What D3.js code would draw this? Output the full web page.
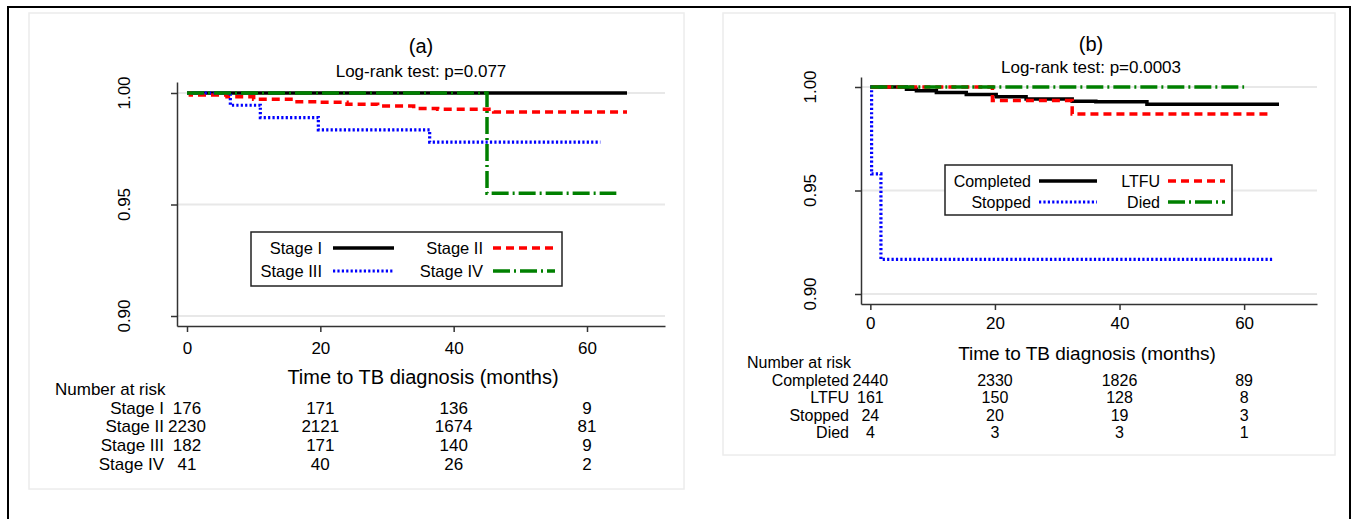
<!DOCTYPE html>
<html><head><meta charset="utf-8">
<script src="https://cdn.jsdelivr.net/npm/d3@7"></script>
<style>
html,body{margin:0;padding:0;background:#fff;}
svg{display:block;font-family:"Liberation Sans",Arial,Helvetica,sans-serif;}
</style></head>
<body>
<svg id="chart" width="1356" height="519"></svg>
<script>
// ---------------- DATA ----------------
const xTicks = [0, 20, 40, 60];
const xTickLabels = ["0", "20", "40", "60"];
const yTicks = [0.90, 0.95, 1.00];
const yTickLabels = ["0.90", "0.95", "1.00"];

// Panel (a): survival by stage
const stageNames = ["Stage I", "Stage II", "Stage III", "Stage IV"];
const stageI_t   = [0, 66];
const stageI_s   = [1, 1];
const stageII_t  = [0, 0.5, 6, 10, 16, 20, 24, 28.6, 34, 37.6, 46, 66];
const stageII_s  = [1, 0.9991, 0.9983, 0.9972, 0.9961, 0.9958, 0.9949, 0.9942, 0.9931, 0.9927, 0.9915, 0.9915];
const stageIII_t = [0, 6.5, 11, 19.7, 36.4, 62];
const stageIII_s = [1, 0.9945, 0.989, 0.9835, 0.978, 0.978];
const stageIV_t  = [0, 45, 64.4];
const stageIV_s  = [1, 0.955, 0.955];
const riskA = [
  [176, 171, 136, 9],
  [2230, 2121, 1674, 81],
  [182, 171, 140, 9],
  [41, 40, 26, 2]
];

// Panel (b): survival by treatment outcome
const outcomeNames = ["Completed", "LTFU", "Stopped", "Died"];
const completed_t = [0, 5.8, 7.4, 10.6, 15.4, 20.2, 25, 32.4, 36.2, 44.4, 65.6];
const completed_s = [1, 0.9989, 0.9982, 0.9974, 0.9964, 0.9953, 0.9942, 0.9931, 0.9929, 0.9917, 0.9917];
const ltfu_t      = [0, 19.6, 32.4, 64.5];
const ltfu_s      = [1, 0.9935, 0.987, 0.987];
const stopped_t   = [0, 0.2, 1.7, 64.8];
const stopped_s   = [1, 0.958, 0.9167, 0.9167];
const died_t      = [0, 60];
const died_s      = [1, 1];
const riskB = [
  [2440, 2330, 1826, 89],
  [161, 150, 128, 8],
  [24, 20, 19, 3],
  [4, 3, 3, 1]
];

// ---------------- STYLES ----------------
const styles = {
  solid:   {color: "#000000", dash: null,        width: 3.5},
  dash:    {color: "#ff0000", dash: "8,5",       width: 3.5},
  dot:     {color: "#0000ff", dash: "2.2,2.2",   width: 3.2},
  dashdot: {color: "#008000", dash: "17,4,2,4",  width: 3.5}
};

const svg = d3.select("#chart");

// outer frame
svg.append("rect").attr("x", 8).attr("y", 7).attr("width", 1342).attr("height", 600)
  .attr("fill", "none").attr("stroke", "#000").attr("stroke-width", 2);

function zip(t, s) { return t.map((d, i) => ({t: d, s: s[i]})); }

function drawPanel(cfg) {
  const g = svg.append("g");
  // light panel frame
  g.append("rect").attr("x", cfg.box[0]).attr("y", cfg.box[1])
    .attr("width", cfg.box[2] - cfg.box[0]).attr("height", cfg.box[3] - cfg.box[1])
    .attr("fill", "#fff").attr("stroke", "#ececec").attr("stroke-width", 1.5);

  const x = d3.scaleLinear().domain([-1.5, 71.7]).range(cfg.xRange);
  const y = d3.scaleLinear().domain(cfg.yDomain).range(cfg.yRange);

  // titles
  g.append("text").attr("x", cfg.titleX).attr("y", cfg.titleY).attr("text-anchor", "middle")
    .attr("dominant-baseline", "central").attr("font-size", 20).text(cfg.title);
  g.append("text").attr("x", cfg.titleX).attr("y", cfg.subY).attr("text-anchor", "middle")
    .attr("dominant-baseline", "central").attr("font-size", 17).text(cfg.subtitle);

  // gridlines
  g.selectAll(".grid").data(yTicks).join("line")
    .attr("x1", cfg.xRange[0]).attr("x2", cfg.xRange[1])
    .attr("y1", d => y(d)).attr("y2", d => y(d))
    .attr("stroke", "#e8e8e8").attr("stroke-width", 2);

  // y axis
  const yAxis = d3.axisLeft(y).tickValues(yTicks).tickSize(6).tickSizeOuter(0).tickFormat("");
  const ya = g.append("g").attr("transform", `translate(${cfg.xRange[0]},0)`).call(yAxis);
  ya.select(".domain").attr("stroke", "#333").attr("stroke-width", 1.5);
  ya.selectAll(".tick line").attr("stroke", "#333").attr("stroke-width", 1.5);
  g.selectAll(".ylab").data(yTicks).join("text")
    .attr("transform", (d) => `translate(${cfg.yLabX},${y(d)}) rotate(-90)`)
    .attr("text-anchor", "middle").attr("dominant-baseline", "central")
    .attr("font-size", 17).text((d, i) => yTickLabels[i]);

  // x axis
  const xAxis = d3.axisBottom(x).tickValues(xTicks).tickSize(6).tickSizeOuter(0)
    .tickFormat((d, i) => xTickLabels[i]);
  const xa = g.append("g").attr("transform", `translate(0,${cfg.yRange[0]})`).call(xAxis);
  xa.select(".domain").attr("stroke", "#333").attr("stroke-width", 1.5);
  xa.selectAll(".tick line").attr("stroke", "#333").attr("stroke-width", 1.5);
  xa.selectAll(".tick text").attr("font-size", 17).attr("fill", "#000")
    .attr("font-family", "Liberation Sans, Arial, sans-serif").attr("dy", cfg.xLabDy);

  g.append("text").attr("x", cfg.xTitleX).attr("y", cfg.xTitleY).attr("text-anchor", "middle")
    .attr("dominant-baseline", "central").attr("font-size", cfg.xTitleSize).text("Time to TB diagnosis (months)");

  // curves
  const line = d3.line().x(d => x(d.t)).y(d => y(d.s)).curve(d3.curveStepAfter);
  cfg.series.forEach(s => {
    const st = styles[s.style];
    g.append("path").datum(zip(s.t, s.s)).attr("d", line)
      .attr("fill", "none").attr("stroke", st.color).attr("stroke-width", st.width)
      .attr("stroke-dasharray", st.dash);
  });

  // legend
  const L = cfg.legend;
  g.append("rect").attr("x", L.box[0]).attr("y", L.box[1])
    .attr("width", L.box[2] - L.box[0]).attr("height", L.box[3] - L.box[1])
    .attr("fill", "#fff").attr("stroke", "#222").attr("stroke-width", 1.5);
  L.order.forEach((idx, k) => {
    const col = k % 2, row = Math.floor(k / 2);
    const s = cfg.series[idx];
    const st = styles[s.style];
    const ly = L.rows[row];
    g.append("text").attr("x", L.textRight[col]).attr("y", ly).attr("text-anchor", "end")
      .attr("dominant-baseline", "central").attr("font-size", L.fontSize).text(s.name);
    g.append("line").attr("x1", L.lineX[col][0]).attr("x2", L.lineX[col][1])
      .attr("y1", ly).attr("y2", ly)
      .attr("stroke", st.color).attr("stroke-width", st.width).attr("stroke-dasharray", st.dash);
  });

  // number at risk table
  const R = cfg.risk;
  g.append("text").attr("x", R.headX).attr("y", R.headY).attr("dominant-baseline", "central")
    .attr("font-size", R.fontSize).text("Number at risk");
  R.names.forEach((nm, i) => {
    const ry = R.rows[i];
    g.append("text").attr("x", R.labelRight).attr("y", ry).attr("text-anchor", "end")
      .attr("dominant-baseline", "central").attr("font-size", R.fontSize).text(nm);
    g.selectAll(null).data(R.values[i]).join("text")
      .attr("x", (d, j) => x(xTicks[j])).attr("y", ry).attr("text-anchor", "middle")
      .attr("dominant-baseline", "central").attr("font-size", R.fontSize).text(d => d);
  });
}

drawPanel({
  box: [29, 13, 684, 489],
  xRange: [177, 665],
  yDomain: [0.89552, 1.00493], yRange: [326, 82],
  title: "(a)", subtitle: "Log-rank test: p=0.077",
  titleX: 421, titleY: 46, subY: 71,
  yLabX: 124, xLabDy: "1.1em",
  xTitleX: 423, xTitleY: 377, xTitleSize: 20,
  series: [
    {name: stageNames[0], t: stageI_t, s: stageI_s, style: "solid"},
    {name: stageNames[1], t: stageII_t, s: stageII_s, style: "dash"},
    {name: stageNames[2], t: stageIII_t, s: stageIII_s, style: "dot"},
    {name: stageNames[3], t: stageIV_t, s: stageIV_s, style: "dashdot"}
  ],
  legend: {box: [251, 232, 562, 286], rows: [248, 271], order: [0, 1, 2, 3],
    textRight: [322, 483], lineX: [[333, 394], [493, 555]], fontSize: 16.5},
  risk: {headX: 55, headY: 389, rows: [408, 426, 445, 464], labelRight: 164,
    names: stageNames, values: riskA, fontSize: 17}
});

drawPanel({
  box: [723, 13, 1335, 455],
  xRange: [861, 1317],
  yDomain: [0.89517, 1.00483], yRange: [304, 77],
  title: "(b)", subtitle: "Log-rank test: p=0.0003",
  titleX: 1091, titleY: 44, subY: 67,
  yLabX: 810, xLabDy: "0.95em",
  xTitleX: 1087, xTitleY: 353, xTitleSize: 19,
  series: [
    {name: outcomeNames[0], t: completed_t, s: completed_s, style: "solid"},
    {name: outcomeNames[1], t: ltfu_t, s: ltfu_s, style: "dash"},
    {name: outcomeNames[2], t: stopped_t, s: stopped_s, style: "dot"},
    {name: outcomeNames[3], t: died_t, s: died_s, style: "dashdot"}
  ],
  legend: {box: [945, 165, 1232, 215], rows: [181, 202], order: [0, 1, 2, 3],
    textRight: [1031, 1160], lineX: [[1039, 1097], [1168, 1225]], fontSize: 16},
  risk: {headX: 747, headY: 362, rows: [380, 397, 415, 432], labelRight: 849,
    names: outcomeNames, values: riskB, fontSize: 16}
});
</script>
</body></html>
